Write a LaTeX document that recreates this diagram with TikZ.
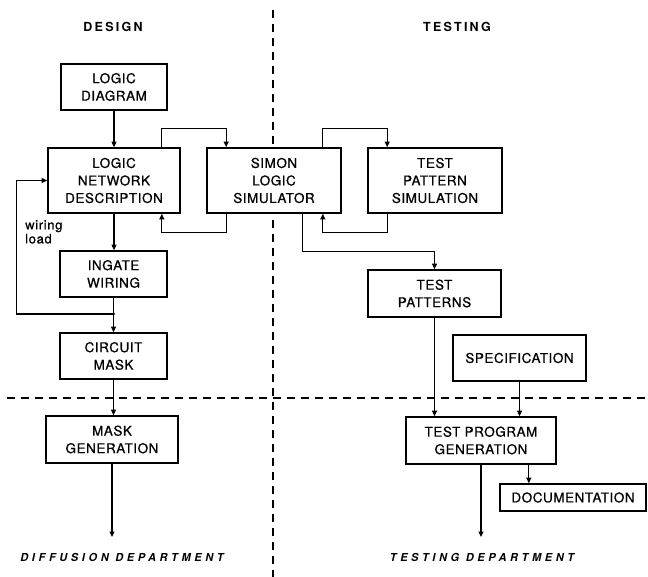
\documentclass[tikz,border=0pt]{standalone}
\usepackage{fontspec}
\usetikzlibrary{arrows.meta,calc}
\newfontfamily\boxfont[LetterSpace=4,FakeBold=0.7]{TeX Gyre Heros}
\newfontfamily\headfont[LetterSpace=18]{TeX Gyre Heros}
\newfontfamily\deptfont[LetterSpace=33]{TeX Gyre Heros}
\newfontfamily\smallfont[LetterSpace=5,FakeBold=0.7]{TeX Gyre Heros}
\begin{document}
\begin{tikzpicture}[x=1pt,y=-1pt,
  blk/.style={draw,line width=1.7pt,fill=white,rectangle,inner sep=0pt,align=center,
    font=\boxfont\fontsize{13.5}{17.5}\selectfont},
  arr/.style={line width=1.1pt,-{Triangle[length=5.5pt,width=5pt]}},
  sep/.style={line width=1.3pt,dash pattern=on 8pt off 6pt},
  head/.style={font=\headfont\bfseries\fontsize{12.5}{14}\selectfont},
  dept/.style={font=\deptfont\bfseries\itshape\fontsize{11}{13}\selectfont}]
\useasboundingbox (0,0) rectangle (648,577);
% separators
\draw[sep] (273,10) -- (273,577);
\draw[sep] (7,398) -- (648,398);
% headings
\node[head] (hdes) at (113,27) {DESIGN};
\node[head] (htest) at (457,27) {TESTING};
% boxes
\node[blk,minimum width=106pt,minimum height=46pt] (ld) at (114,87) {LOGIC\\DIAGRAM};
\node[blk,minimum width=132pt,minimum height=65pt] (lnd) at (114,180.5) {LOGIC\\NETWORK\\DESCRIPTION};
\node[blk,minimum width=134pt,minimum height=65pt] (sim) at (274,180.5) {SIMON\\LOGIC\\SIMULATOR};
\node[blk,minimum width=134pt,minimum height=65pt] (tps) at (435,180.5) {TEST\\PATTERN\\SIMULATION};
\node[blk,minimum width=107pt,minimum height=46pt] (ing) at (113.5,274) {INGATE\\WIRING};
\node[blk,minimum width=107pt,minimum height=46pt] (cm) at (113.5,356) {CIRCUIT\\MASK};
\node[blk,minimum width=132pt,minimum height=47pt] (mg) at (112,439.5) {MASK\\GENERATION};
\node[blk,minimum width=133pt,minimum height=47pt] (tp) at (434.5,293.5) {TEST\\PATTERNS};
\node[blk,minimum width=133pt,minimum height=46pt] (spec) at (519.5,358) {SPECIFICATION};
\node[blk,minimum width=150pt,minimum height=47pt] (tpg) at (481,440.5) {TEST PROGRAM\\GENERATION};
\node[blk,minimum width=146pt,minimum height=27pt] (doc) at (573,497.5) {DOCUMENTATION};
% department labels
\coordinate (dd) at (112,537);
\coordinate (td) at (480,537);
\node[dept] (ddl) at (122,557) {DIFFUSION DEPARTMENT};
\node[dept] (tdl) at (482,557) {TESTING DEPARTMENT};
% connectors
\draw[arr] (ld.south) -- (lnd.north);
\draw[arr] ([xshift=-19pt]lnd.north east) -- ++(0,-19) -| ([xshift=20pt]sim.north west);
\draw[arr] ([xshift=20pt]sim.south west) -- ++(0,19) -| ([xshift=-19pt]lnd.south east);
\draw[arr] ([xshift=-19pt]sim.north east) -- ++(0,-19) -| ([xshift=20pt]tps.north west);
\draw[arr] ([xshift=20pt]tps.south west) -- ++(0,19) -| ([xshift=-19pt]sim.south east);
\draw[arr] ([xshift=-39pt]sim.south east) -- ++(0,38) -| (tp.north);
\draw[arr] (lnd.south) -- (lnd.south |- ing.north);
\draw[arr] (ing.south) -- (cm.north);
\coordinate (j) at ($(ing.south)!0.47!(cm.north)$);
\fill (j) circle (1.7pt);
\draw[arr] (j) -| ([xshift=-31pt]lnd.west) -- (lnd.west);
\node[anchor=north west,align=left,inner sep=0pt,font=\smallfont\fontsize{13}{14}\selectfont] (wl) at (25,220) {wiring\\load};
\draw[arr] (cm.south) -- (cm.south |- mg.north);
\draw[arr] (mg.south) -- (mg.south |- dd);
\draw[arr] (tp.south) -- (tp.south |- tpg.north);
\draw[arr] (spec.south) -- (spec.south |- tpg.north);
\draw[arr] (tpg.south) -- (tpg.south |- td);
\draw[arr] ([xshift=-28pt]tpg.south east) -- ([xshift=-28pt]tpg.south east |- doc.north);
\end{tikzpicture}
\end{document}
